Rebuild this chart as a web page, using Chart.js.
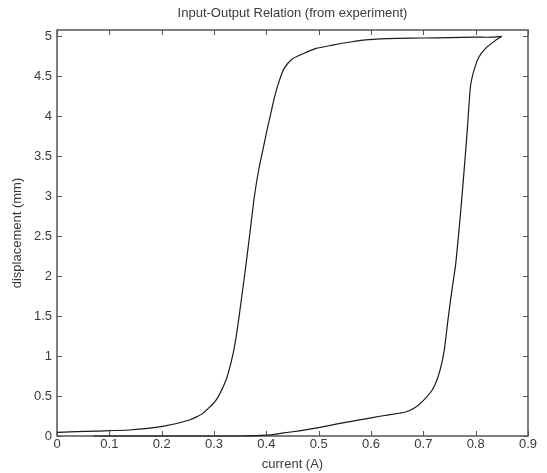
<!DOCTYPE html>
<html><head><meta charset="utf-8">
<script src="https://cdn.jsdelivr.net/npm/chart.js@4/dist/chart.umd.min.js"></script>
<style>html,body{margin:0;padding:0;background:#fff}</style>
</head><body>
<canvas id="c" width="547" height="473" style="display:block;width:547px;height:473px"></canvas>
<script>
const chartTitle = 'Input-Output Relation (from experiment)';
const xLabel = 'current (A)';
const yLabel = 'displacement (mm)';
const xTicks = [0, 0.1, 0.2, 0.3, 0.4, 0.5, 0.6, 0.7, 0.8, 0.9];
const yTicks = [0, 0.5, 1, 1.5, 2, 2.5, 3, 3.5, 4, 4.5, 5];

// ascending branch (current increasing)
const ascCurrent = [0.07, 0.15, 0.20, 0.28, 0.35, 0.40, 0.43, 0.463, 0.50, 0.526, 0.56, 0.59, 0.62, 0.654, 0.666, 0.683, 0.698, 0.717, 0.730, 0.740, 0.747, 0.752, 0.757, 0.762, 0.771, 0.778, 0.784, 0.790, 0.797, 0.806, 0.819, 0.838, 0.850];
const ascDisp    = [0.0, 0.0, 0.0, 0.0, 0.0, 0.01, 0.035, 0.065, 0.105, 0.14, 0.18, 0.215, 0.25, 0.285, 0.30, 0.35, 0.43, 0.575, 0.78, 1.075, 1.45, 1.70, 1.93, 2.16, 2.78, 3.33, 3.83, 4.37, 4.58, 4.74, 4.85, 4.95, 5.0];

// descending branch (current decreasing)
const descCurrent = [0.850, 0.830, 0.800, 0.750, 0.700, 0.650, 0.596, 0.560, 0.526, 0.495, 0.469, 0.450, 0.434, 0.425, 0.416, 0.409, 0.402, 0.394, 0.386, 0.377, 0.367, 0.358, 0.347, 0.340, 0.333, 0.323, 0.304, 0.278, 0.253, 0.202, 0.138, 0.075, 0.0];
const descDisp    = [5.0, 4.99, 4.99, 4.985, 4.98, 4.975, 4.96, 4.93, 4.89, 4.85, 4.78, 4.72, 4.60, 4.45, 4.25, 4.05, 3.85, 3.60, 3.35, 2.99, 2.45, 1.99, 1.45, 1.15, 0.93, 0.70, 0.45, 0.28, 0.20, 0.12, 0.075, 0.062, 0.046];

const toPts = (xs, ys) => xs.map((x, i) => ({x: x, y: ys[i]}));
const FONT = "'Liberation Sans', Arial, sans-serif";
const TXT = '#3a3a3a';
const FS = 13;

const frame = {
  id: 'frame',
  beforeDatasetsDraw(chart) {
    const {ctx, chartArea: a, scales: {x, y}} = chart;
    ctx.save();
    ctx.strokeStyle = '#555';
    ctx.lineWidth = 1.5;
    ctx.strokeRect(a.left, a.top, a.right - a.left, a.bottom - a.top);
    ctx.lineWidth = 1;
    const L = 5;
    ctx.beginPath();
    x.ticks.forEach(t => {
      const px = Math.round(x.getPixelForValue(t.value)) + 0.5;
      ctx.moveTo(px, a.bottom); ctx.lineTo(px, a.bottom - L);
      ctx.moveTo(px, a.top); ctx.lineTo(px, a.top + L);
    });
    y.ticks.forEach(t => {
      const py = Math.round(y.getPixelForValue(t.value)) + 0.5;
      ctx.moveTo(a.left, py); ctx.lineTo(a.left + L, py);
      ctx.moveTo(a.right, py); ctx.lineTo(a.right - L, py);
    });
    ctx.stroke();
    ctx.restore();
  }
};

new Chart(document.getElementById('c'), {
  type: 'scatter',
  data: {
    datasets: [
      {data: toPts(ascCurrent, ascDisp), showLine: true, borderColor: '#1a1a1a', borderWidth: 1.2, pointRadius: 0, tension: 0.2, clip: 6},
      {data: toPts(descCurrent, descDisp), showLine: true, borderColor: '#1a1a1a', borderWidth: 1.2, pointRadius: 0, tension: 0.2, clip: 6}
    ]
  },
  options: {
    responsive: false,
    animation: false,
    devicePixelRatio: 1,
    layout: {padding: {left: 0, right: 19, top: 0, bottom: 0}},
    plugins: {
      legend: {display: false},
      tooltip: {enabled: false},
      title: {display: false}
    },
    scales: {
      x: {
        type: 'linear', min: 0, max: 0.9, position: 'bottom',
        afterBuildTicks: s => { s.ticks = xTicks.map(v => ({value: v})); },
        afterFit: s => { s.height = 37; },
        grid: {display: false, drawTicks: false},
        border: {display: false},
        ticks: {color: TXT, font: {family: FONT, size: FS}, padding: 1, maxRotation: 0, autoSkip: false, callback: v => String(v)},
        title: {display: true, text: xLabel, color: TXT, font: {family: FONT, size: FS}, padding: {top: 0, bottom: 1.2}}
      },
      x2: {
        type: 'linear', min: 0, max: 0.9, position: 'top',
        afterBuildTicks: s => { s.ticks = []; },
        afterFit: s => { s.height = 30; },
        grid: {display: false, drawTicks: false},
        border: {display: false},
        ticks: {display: false},
        title: {display: true, text: chartTitle, color: TXT, font: {family: FONT, size: FS}, padding: {top: 6, bottom: 0}}
      },
      y: {
        type: 'linear', min: 0, max: 5.08,
        afterBuildTicks: s => { s.ticks = yTicks.map(v => ({value: v})); },
        afterFit: s => { s.width = 57; },
        grid: {display: false, drawTicks: false},
        border: {display: false},
        ticks: {color: TXT, font: {family: FONT, size: FS}, padding: 5, autoSkip: false, callback: v => String(v)},
        title: {display: true, text: yLabel, color: TXT, font: {family: FONT, size: FS}, padding: {top: 10, bottom: 0}}
      }
    }
  },
  plugins: [frame]
});
</script>
</body></html>
